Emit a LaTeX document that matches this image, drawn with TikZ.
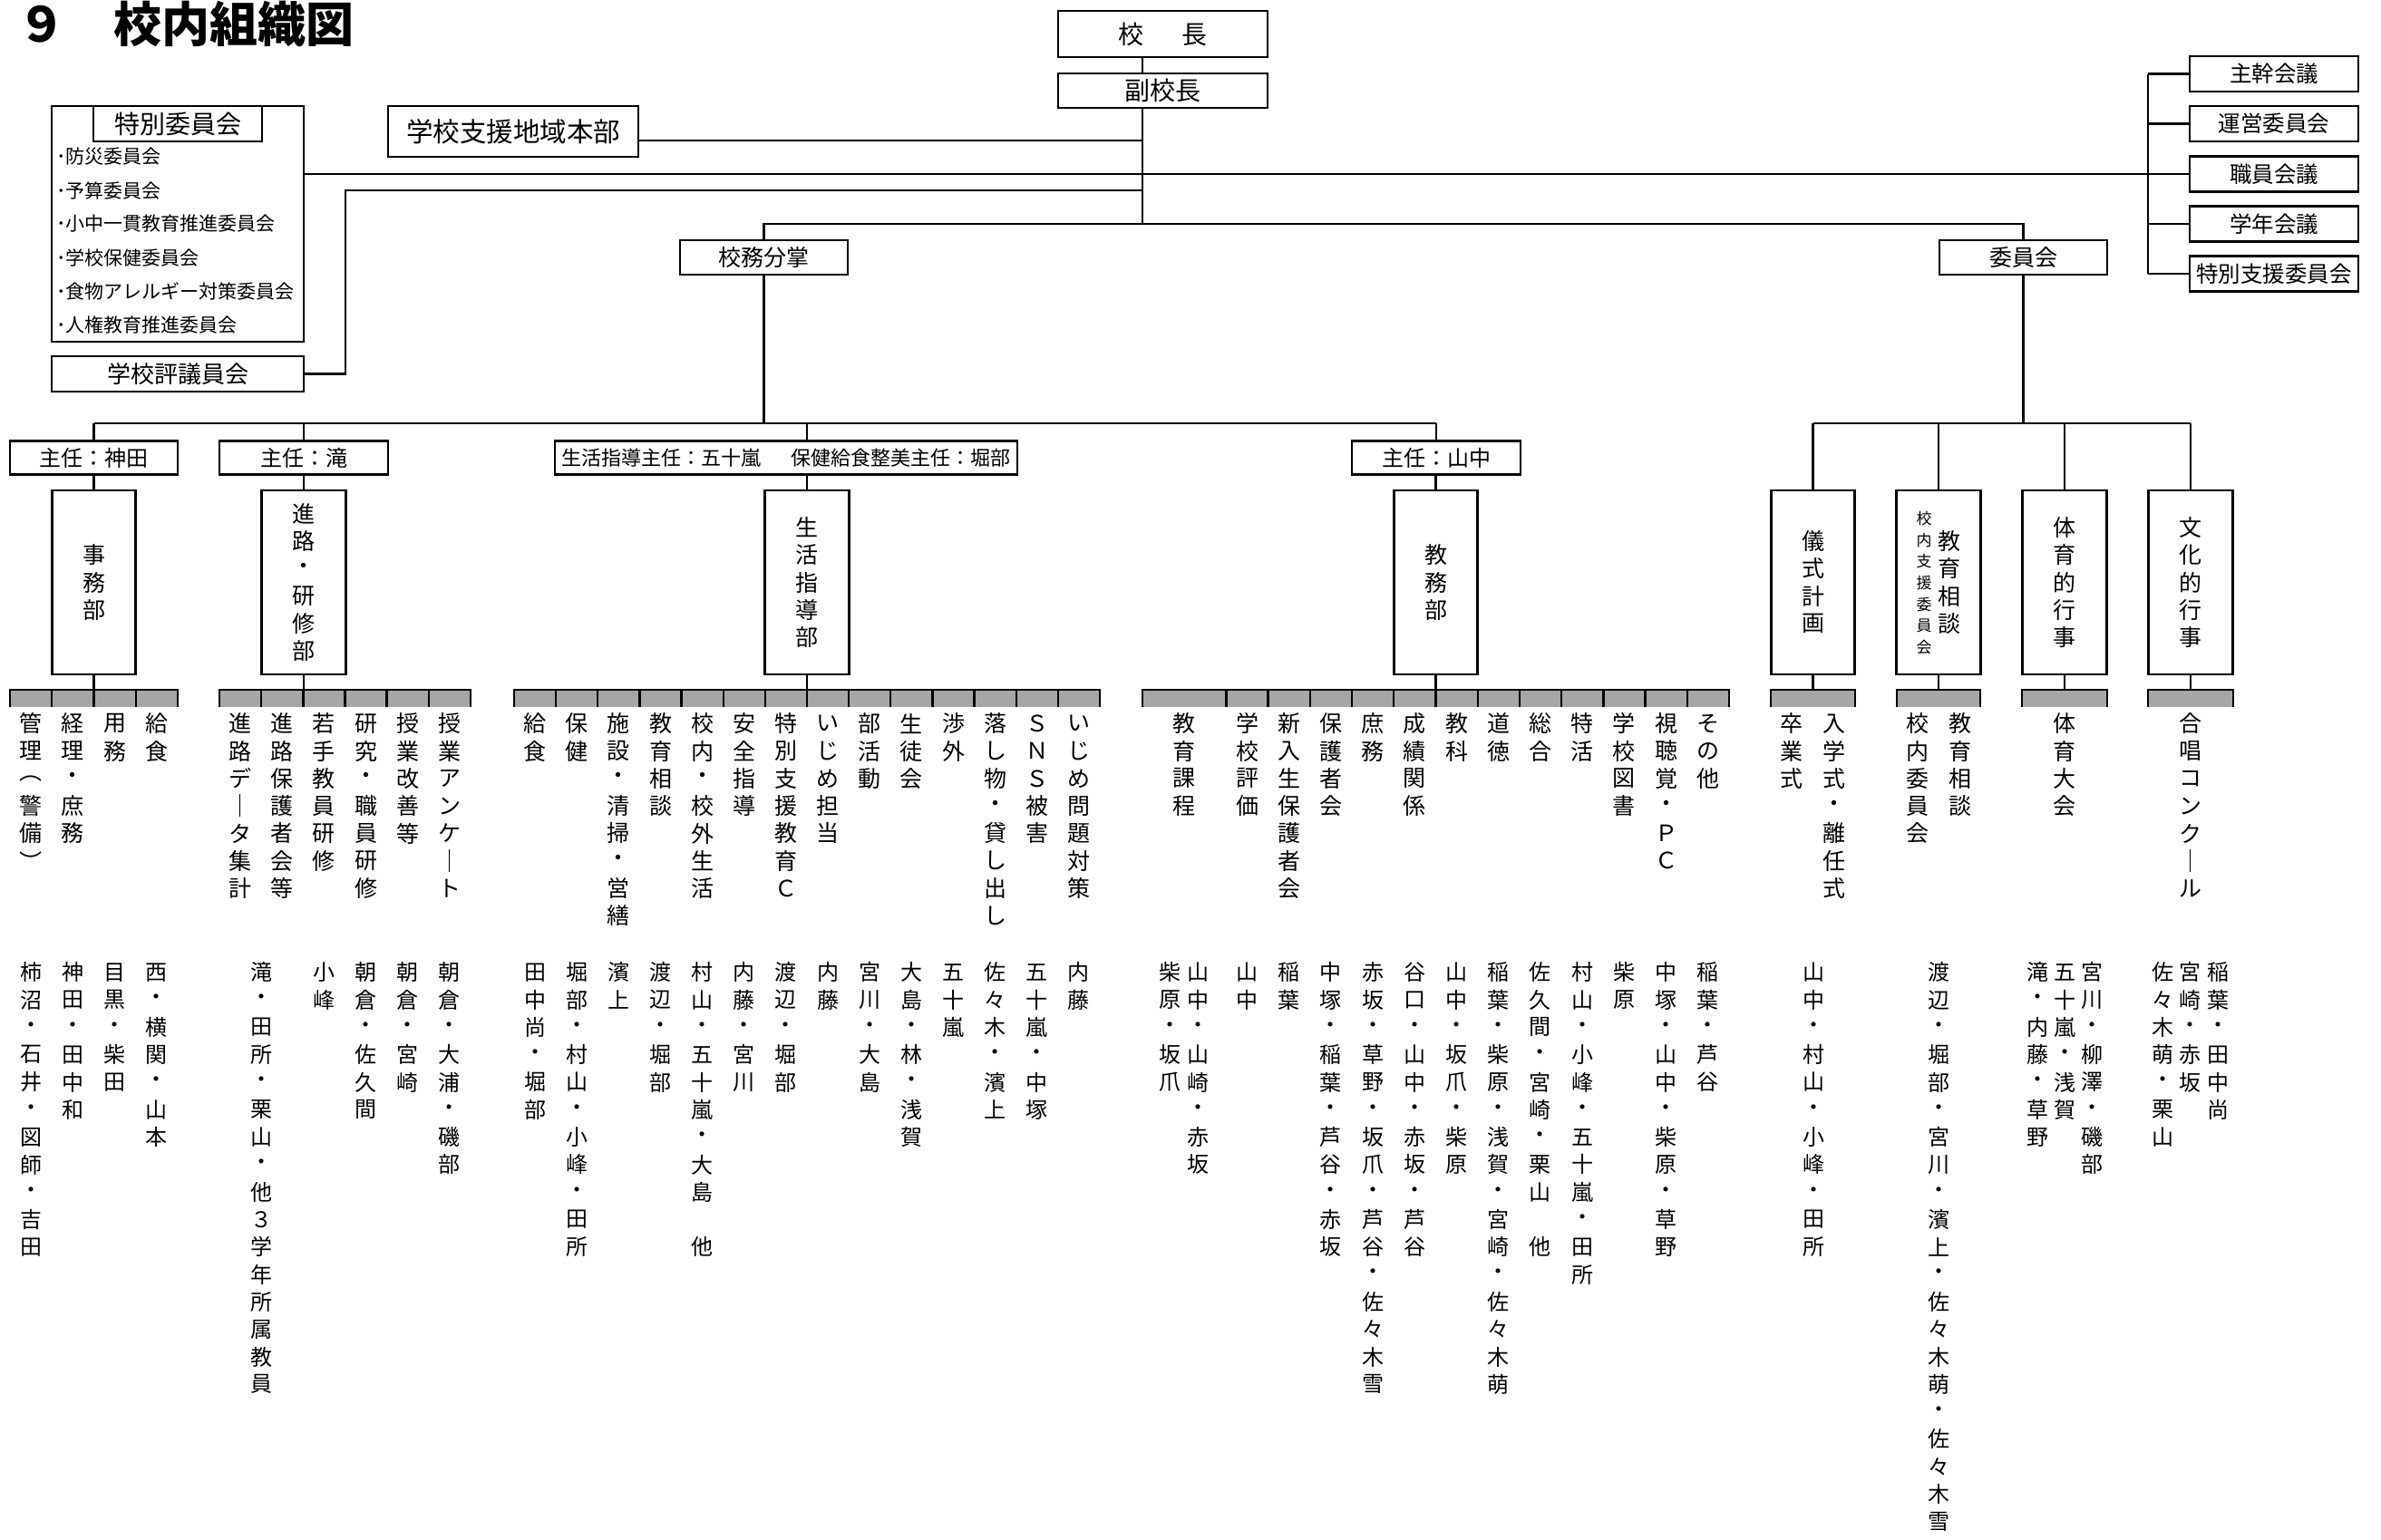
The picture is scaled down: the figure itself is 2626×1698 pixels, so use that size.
\documentclass[tikz,border=0pt]{standalone}
\usepackage{fontspec}
\setmainfont{Noto Sans CJK JP}
\makeatletter
\newdimen\vtstep
\def\vt@end{\vt@end}
\newcommand\vt[2][30.3pt]{\vbox{\offinterlineskip\vtstep=#1\relax\vt@a#2\vt@end}}
\def\vt@a#1{\ifx\vt@end#1\else\vbox to\vtstep{\vss\hbox to 0pt{\hss#1\hss}\vss}\expandafter\vt@a\fi}
\newcommand\vtx[1]{\expandafter\vt\expandafter{#1}}
\makeatother
\definecolor{barg}{RGB}{166,166,166}
\tikzset{
  box/.style={draw, line width=2.6pt, inner sep=0pt, align=center},
  conn/.style={line width=2.4pt},
  dept/.style={box, minimum width=92.5pt, minimum height=203pt, font=\fontsize{25}{30}\selectfont},
  lead/.style={box, minimum height=37.5pt, font=\fontsize{24}{24}\selectfont},
  rbox/.style={box, minimum width=186pt, minimum height=39pt, font=\fontsize{24.5}{25}\selectfont},
  lab/.style={inner sep=0pt, anchor=north, font=\fontsize{25}{30}\selectfont},
  nam/.style={inner sep=0pt, anchor=north, font=\fontsize{24}{29}\selectfont},
  item/.style={inner sep=0pt, anchor=west, font=\fontsize{21}{21}\selectfont},
}
\begin{document}
\begin{tikzpicture}[x=1pt,y=-1pt]
\fill[white] (0,0) rectangle (2626,1698);
\useasboundingbox (0,0) rectangle (2626,1698);

% title
\node[anchor=base west, inner sep=0pt, font=\fontsize{53}{53}\selectfont\bfseries] (title) at (19,46) {９　校内組織図};

% top
\node[box, minimum width=231pt, minimum height=51pt, font=\fontsize{28}{28}\selectfont] (kocho) at (1282.5,37.5) {校\hspace{42pt}長};
\node[box, minimum width=231pt, minimum height=38pt, font=\fontsize{28}{28}\selectfont] (fuku) at (1282.5,100) {副校長};
\coordinate (mv) at (1260,0);
\coordinate (j247) at (1260,247);
\coordinate (h210) at (1260,210);
\coordinate (hx) at (381,210);
\draw[conn] (kocho.south -| mv) -- (fuku.north -| mv);
\draw[conn] (fuku.south -| mv) -- (j247);

\node[box, minimum width=276pt, minimum height=56pt, font=\fontsize{29.5}{30}\selectfont] (shien) at (566,145) {学校支援地域本部};
\draw[conn] ([yshift=-10pt]shien.east) -- ([yshift=-10pt]shien.east -| mv);

\node[box, minimum width=278pt, minimum height=260pt] (tokubetsu) at (196,247) {};
\node[box, minimum width=186pt, minimum height=39pt, font=\fontsize{28}{28}\selectfont] (tokut) at (196,136.5) {特別委員会};
\node[item] (it1) at (62,173) {･防災委員会};
\node[item] (it2) at (62,210) {･予算委員会};
\node[item] (it3) at (62,247) {･小中一貫教育推進委員会};
\node[item] (it4) at (62,284) {･学校保健委員会};
\node[item] (it5) at (62,321) {･食物アレルギー対策委員会};
\node[item] (it6) at (62,358) {･人権教育推進委員会};

\node[box, minimum width=278pt, minimum height=39pt, font=\fontsize{26}{26}\selectfont] (hyogi) at (196,412.5) {学校評議員会};
\draw[conn] (hyogi.east) -| (hx) -- (h210);

% right column
\node[rbox] (shukan) at (2508,81.5) {主幹会議};
\node[rbox] (unei) at (2508,136.5) {運営委員会};
\node[rbox] (shokuin) at (2508,192) {職員会議};
\node[rbox] (gakunen) at (2508,247) {学年会議};
\node[rbox] (tokushi) at (2508,302) {特別支援委員会};
\coordinate (bx) at (2369,0);
\draw[conn] (shukan.west -| bx) -- (tokushi.west -| bx);
\foreach \b in {shukan,unei,gakunen,tokushi} \draw[conn] (\b.west -| bx) -- (\b.west);
\draw[conn] ([yshift=55pt]tokubetsu.east) -- (shokuin.west);

% second level
\node[box, minimum width=185pt, minimum height=38pt, font=\fontsize{25}{25}\selectfont] (koumu) at (842.5,284) {校務分掌};
\node[box, minimum width=185pt, minimum height=38pt, font=\fontsize{25}{25}\selectfont] (iinkai) at (2231.5,284) {委員会};
\draw[conn] (koumu.north) -- (koumu.north |- j247) -- (iinkai.north |- j247) -- (iinkai.north);

% leaders
\coordinate (h467) at (0,467);
\coordinate (bartop) at (0,761);
\node[lead, minimum width=185pt] (kanda) at (103.5,505) {主任：神田};
\node[lead, minimum width=186pt] (taki) at (335,505) {主任：滝};
\node[lead, minimum width=510pt, font=\fontsize{22}{22}\selectfont] (seil) at (867,505) {生活指導主任：五十嵐\hspace{1.5em}保健給食整美主任：堀部};
\node[lead, minimum width=186pt] (yamanaka) at (1584,505) {主任：山中};

% departments
\node[dept] (jimu) at (103.5,642.5) {\vt{事務部}};
\node[dept] (shinro) at (335,642.5) {\vt{進路・研修部}};
\node[dept] (seid) at (890,642.5) {\vt{生活指導部}};
\node[dept] (kyomu) at (1583.5,642.5) {\vt{教務部}};
\node[dept] (gishiki) at (1999.5,642.5) {\vt{儀式計画}};
\node[dept] (soudan) at (2138,642.5) {};
\node[inner sep=0pt, font=\fontsize{25}{30}\selectfont] (soudanA) at (2150,642.5) {\vt{教育相談}};
\node[inner sep=0pt, font=\fontsize{17}{20}\selectfont] (soudanB) at (2122,643) {\vt[23.6pt]{校内支援委員会}};
\node[dept] (taiiku) at (2277,642.5) {\vt{体育的行事}};
\node[dept] (bunka) at (2416,642.5) {\vt{文化的行事}};

\draw[conn] (koumu.south) -- (koumu.south |- h467);
\draw[conn] (kanda.north |- h467) -- (yamanaka.north |- h467);
\draw[conn] (kanda.north |- h467) -- (kanda.north);
\draw[conn] (taki.north |- h467) -- (taki.north);
\draw[conn] (seid.north |- h467) -- (seid.north |- seil.north);
\draw[conn] (yamanaka.north |- h467) -- (yamanaka.north);
\draw[conn] (kanda.south) -- (jimu.north);
\draw[conn] (taki.south) -- (shinro.north);
\draw[conn] (seid.north |- seil.south) -- (seid.north);
\draw[conn] (yamanaka.south -| kyomu.north) -- (kyomu.north);

\draw[conn] (iinkai.south) -- (iinkai.south |- h467);
\draw[conn] (gishiki.north |- h467) -- (bunka.north |- h467);
\foreach \b in {gishiki,soudan,taiiku,bunka} \draw[conn] (\b.north |- h467) -- (\b.north);

\foreach \b in {jimu,shinro,seid,kyomu,gishiki,soudan,taiiku,bunka} \draw[conn] (\b.south) -- (\b.south |- bartop);

% gray bars
\fill[barg] (11,761) rectangle (196,780);
\fill[barg] (242,761) rectangle (519,780);
\fill[barg] (567,761) rectangle (1213,780);
\fill[barg] (1260,761) rectangle (1907,780);
\fill[barg] (1953,761) rectangle (2046,780);
\fill[barg] (2092,761) rectangle (2184,780);
\fill[barg] (2230,761) rectangle (2324,780);
\fill[barg] (2369,761) rectangle (2463,780);
\begin{scope}[conn, line join=miter]
\draw (11,780) -- (11,761) -- (196,761) -- (196,780);
\draw (242,780) -- (242,761) -- (519,761) -- (519,780);
\draw (567,780) -- (567,761) -- (1213,761) -- (1213,780);
\draw (1260,780) -- (1260,761) -- (1907,761) -- (1907,780);
\draw (1953,780) -- (1953,761) -- (2046,761) -- (2046,780);
\draw (2092,780) -- (2092,761) -- (2184,761) -- (2184,780);
\draw (2230,780) -- (2230,761) -- (2324,761) -- (2324,780);
\draw (2369,780) -- (2369,761) -- (2463,761) -- (2463,780);
\foreach \k in {1,2,3} \draw ({11+\k*46.25},761) -- ++(0,19);
\foreach \k in {1,...,5} \draw ({242+\k*46.1667},761) -- ++(0,19);
\foreach \k in {1,...,13} \draw ({567+\k*46.1429},761) -- ++(0,19);
\foreach \k in {0,...,11} \draw ({1352.4+\k*46.2167},761) -- ++(0,19);
\end{scope}

% labels
\foreach \x/\t [count=\i] in {
 34.1/管理︵警備︶, 80.4/経理・庶務, 126.6/用務, 172.9/給食,
 265.1/進路デ｜タ集計, 311.25/進路保護者会等, 357.4/若手教員研修, 403.6/研究・職員研修, 449.75/授業改善等, 495.9/授業アンケ｜ト,
 590.1/給食, 636.2/保健, 682.4/施設・清掃・営繕, 728.5/教育相談, 774.6/校内・校外生活, 820.8/安全指導, 866.9/特別支援教育Ｃ, 913.1/いじめ担当, 959.2/部活動, 1005.3/生徒会, 1051.5/渉外, 1097.6/落し物・貸し出し, 1143.8/ＳＮＳ被害, 1189.9/いじめ問題対策,
 1306.2/教育課程, 1375.5/学校評価, 1421.7/新入生保護者会, 1467.9/保護者会, 1514.1/庶務, 1560.3/成績関係, 1606.5/教科, 1652.7/道徳, 1698.9/総合, 1745.1/特活, 1791.3/学校図書, 1837.5/視聴覚・ＰＣ, 1883.7/その他,
 1976/卒業式, 2023/入学式・離任式, 2115/校内委員会, 2162/教育相談, 2277/体育大会, 2416/合唱コンク｜ル}
 \node[lab] (lab\i) at (\x,782.9) {\vtx{\t}};

% names
\foreach \x/\t [count=\i] in {
 34.1/柿沼・石井・図師・吉田, 80.4/神田・田中和, 126.6/目黒・柴田, 172.9/西・横関・山本,
 288.2/滝・田所・栗山・他３学年所属教員, 357.4/小峰, 403.6/朝倉・佐久間, 449.75/朝倉・宮崎, 495.9/朝倉・大浦・磯部,
 590.1/田中尚・堀部, 636.2/堀部・村山・小峰・田所, 682.4/濱上, 728.5/渡辺・堀部, 774.6/村山・五十嵐・大島~他, 820.8/内藤・宮川, 866.9/渡辺・堀部, 913.1/内藤, 959.2/宮川・大島, 1005.3/大島・林・浅賀, 1051.5/五十嵐, 1097.6/佐々木・濱上, 1143.8/五十嵐・中塚, 1189.9/内藤,
 1290/柴原・坂爪, 1321/山中・山崎・赤坂, 1375.5/山中, 1421.7/稲葉, 1467.9/中塚・稲葉・芦谷・赤坂, 1514.1/赤坂・草野・坂爪・芦谷・佐々木雪, 1560.3/谷口・山中・赤坂・芦谷, 1606.5/山中・坂爪・柴原, 1652.7/稲葉・柴原・浅賀・宮崎・佐々木萌, 1698.9/佐久間・宮崎・栗山~他, 1745.1/村山・小峰・五十嵐・田所, 1791.3/柴原, 1837.5/中塚・山中・柴原・草野, 1883.7/稲葉・芦谷,
 2000/山中・村山・小峰・田所, 2138/渡辺・堀部・宮川・濱上・佐々木萌・佐々木雪, 2247/滝・内藤・草野, 2277/五十嵐・浅賀, 2307/宮川・柳澤・磯部, 2385/佐々木萌・栗山, 2415/宮崎・赤坂, 2446/稲葉・田中尚}
 \node[nam] (nam\i) at (\x,1057.4) {\vtx{\t}};
\end{tikzpicture}
\end{document}
